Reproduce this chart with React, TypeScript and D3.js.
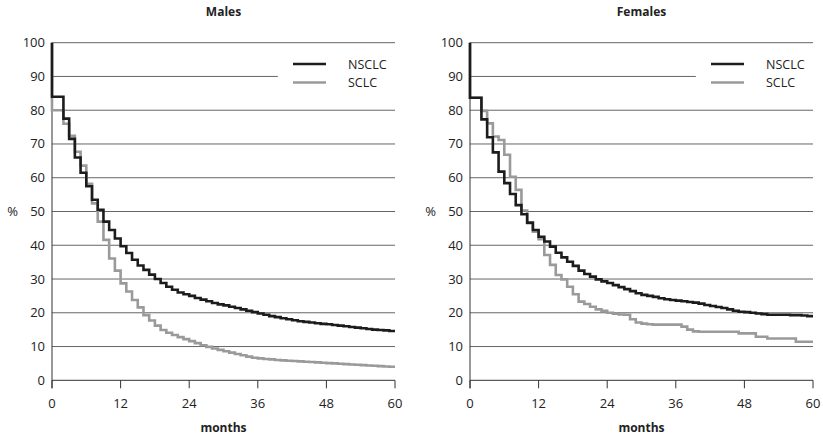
import React from "react";
import * as d3 from "d3";

// Monthly Kaplan-Meier style survival values (%), value held from month i to i+1
const malesNSCLC = [84, 84, 77.5, 71.5, 66, 61.5, 57.5, 53.5, 50.5, 47, 44.5, 42, 39.7, 37.7, 35.7, 34, 32.7, 31.3, 30, 28.8,
  27.7, 26.8, 26, 25.5, 25, 24.4, 23.9, 23.4, 22.9, 22.5, 22.2, 21.8, 21.4, 21, 20.6, 20.2, 19.8, 19.4, 19.0, 18.7,
  18.4, 18.1, 17.8, 17.5, 17.3, 17.1, 16.9, 16.7, 16.6, 16.4, 16.2, 16.0, 15.8, 15.6, 15.4, 15.2, 15.0, 14.9, 14.8, 14.6];
const malesSCLC = [80, 80, 76, 72.4, 67.7, 63.6, 58.2, 52.4, 47, 41.6, 36.1, 32.5, 28.7, 26.3, 23.8, 21.6, 19.3, 17.7, 16.2, 14.9,
  14.1, 13.4, 12.8, 12.2, 11.6, 11.0, 10.4, 9.9, 9.4, 9.0, 8.6, 8.2, 7.8, 7.4, 7.0, 6.7, 6.5, 6.3, 6.2, 6.0,
  5.9, 5.8, 5.7, 5.6, 5.5, 5.4, 5.3, 5.2, 5.1, 5.0, 4.9, 4.8, 4.7, 4.6, 4.5, 4.4, 4.3, 4.2, 4.1, 4.0];
const femalesNSCLC = [83.7, 83.7, 77.3, 72, 67.5, 61.8, 58.4, 55.2, 51.9, 49.2, 46.7, 44.5, 42.5, 41.1, 39.6, 37.8, 36.4, 35.1, 33.9, 32.5,
  31.5, 30.7, 29.9, 29.3, 28.8, 28.2, 27.6, 27.0, 26.4, 25.8, 25.3, 25.0, 24.7, 24.3, 24.0, 23.8, 23.6, 23.4, 23.2, 23.0,
  22.7, 22.3, 22.0, 21.7, 21.4, 21.0, 20.6, 20.3, 20.2, 20.0, 19.8, 19.6, 19.4, 19.4, 19.4, 19.4, 19.3, 19.3, 19.2, 19.0];
const femalesSCLC = [83.7, 83.7, 79.8, 76.1, 72.2, 71.2, 66.8, 60.3, 56.4, 50.3, 46.5, 44.0, 41.8, 37.1, 34.2, 31.2, 29.9, 27.7, 25.5, 23.3,
  22.6, 21.8, 21.0, 20.6, 20.0, 19.7, 19.5, 19.4, 18.1, 17.1, 16.8, 16.6, 16.5, 16.5, 16.5, 16.5, 16.5, 15.9, 15.0, 14.5,
  14.4, 14.4, 14.4, 14.4, 14.4, 14.4, 14.4, 13.9, 13.9, 13.9, 12.9, 12.9, 12.4, 12.4, 12.4, 12.4, 12.4, 11.4, 11.4, 11.4];

const xTicks = [0, 12, 24, 36, 48, 60];
const yTicks = [0, 10, 20, 30, 40, 50, 60, 70, 80, 90, 100];
const seriesNames = ["NSCLC", "SCLC"];
const panelTitles = ["Males", "Females"];

const FONT = "'Open Sans', 'Noto Sans', sans-serif";
const BLACK = "#1c1c1c";
const GRAY = "#9a9a9a";

function toSteps(vals: number[]): [number, number][] {
  const pts: [number, number][] = [[0, 100]];
  vals.forEach((v, i) => pts.push([i, v]));
  pts.push([vals.length, vals[vals.length - 1]]);
  return pts;
}

function Panel({ x0, x1, title, nsclc, sclc }: { x0: number; x1: number; title: string; nsclc: number[]; sclc: number[] }) {
  const x = d3.scaleLinear().domain([0, 60]).range([x0, x1]);
  const y = d3.scaleLinear().domain([0, 100]).range([380.3, 42.7]);
  const line = d3
    .line<[number, number]>()
    .x((d) => x(d[0]))
    .y((d) => y(d[1]))
    .curve(d3.curveStepAfter);
  const cx = (x0 + x1) / 2;
  const legX = x0 + 241;
  return (
    <g>
      <text x={cx} y={16} textAnchor="middle" fontFamily={FONT} fontWeight="bold" fontSize={12} fill="#222">
        {title}
      </text>
      {yTicks.filter((t) => t > 0).map((t) => (
        <line key={t} x1={x0} x2={t === 90 ? x(39.5) : x1} y1={y(t)} y2={y(t)} stroke="#666" strokeWidth={1} />
      ))}
      {yTicks.map((t) => (
        <text key={t} x={x0 - 7} y={y(t) + 4.5} textAnchor="end" fontFamily={FONT} fontSize={13} fill="#222">
          {t}
        </text>
      ))}
      <text x={x0 - 34} y={y(50) + 4.5} textAnchor="end" fontFamily={FONT} fontSize={13} fill="#222">
        %
      </text>
      {/* axes */}
      <line x1={x0} x2={x0} y1={y(100)} y2={y(0) + 8} stroke="#333" strokeWidth={1} />
      <line x1={x0} x2={x1} y1={y(0)} y2={y(0)} stroke="#333" strokeWidth={1} />
      {xTicks.map((t) => (
        <g key={t}>
          <line x1={x(t)} x2={x(t)} y1={y(0)} y2={y(0) + 8} stroke="#333" strokeWidth={1} />
          <text x={x(t)} y={y(0) + 28} textAnchor="middle" fontFamily={FONT} fontSize={13} fill="#222">
            {t}
          </text>
        </g>
      ))}
      <text x={cx} y={432} textAnchor="middle" fontFamily={FONT} fontWeight="bold" fontSize={12} fill="#222">
        months
      </text>
      {/* curves */}
      <path d={line(toSteps(sclc)) || ""} fill="none" stroke={GRAY} strokeWidth={2.6} />
      <path d={line(toSteps(nsclc)) || ""} fill="none" stroke={BLACK} strokeWidth={2.6} />
      {/* legend */}
      {seriesNames.map((n, i) => (
        <g key={n}>
          <line x1={legX} x2={legX + 33} y1={64 + i * 18.5} y2={64 + i * 18.5} stroke={i === 0 ? BLACK : GRAY} strokeWidth={2.6} />
          <text x={legX + 55} y={64 + i * 18.5 + 4.5} fontFamily={FONT} fontSize={12.5} fill="#222">
            {n}
          </text>
        </g>
      ))}
    </g>
  );
}

export default function App() {
  return (
    <svg width={823} height={437} style={{ position: "absolute", left: 0, top: 0, background: "#fff" }}>
      <rect width={823} height={437} fill="#fff" />
      <Panel x0={52} x1={395} title={panelTitles[0]} nsclc={malesNSCLC} sclc={malesSCLC} />
      <Panel x0={470} x1={813} title={panelTitles[1]} nsclc={femalesNSCLC} sclc={femalesSCLC} />
    </svg>
  );
}
